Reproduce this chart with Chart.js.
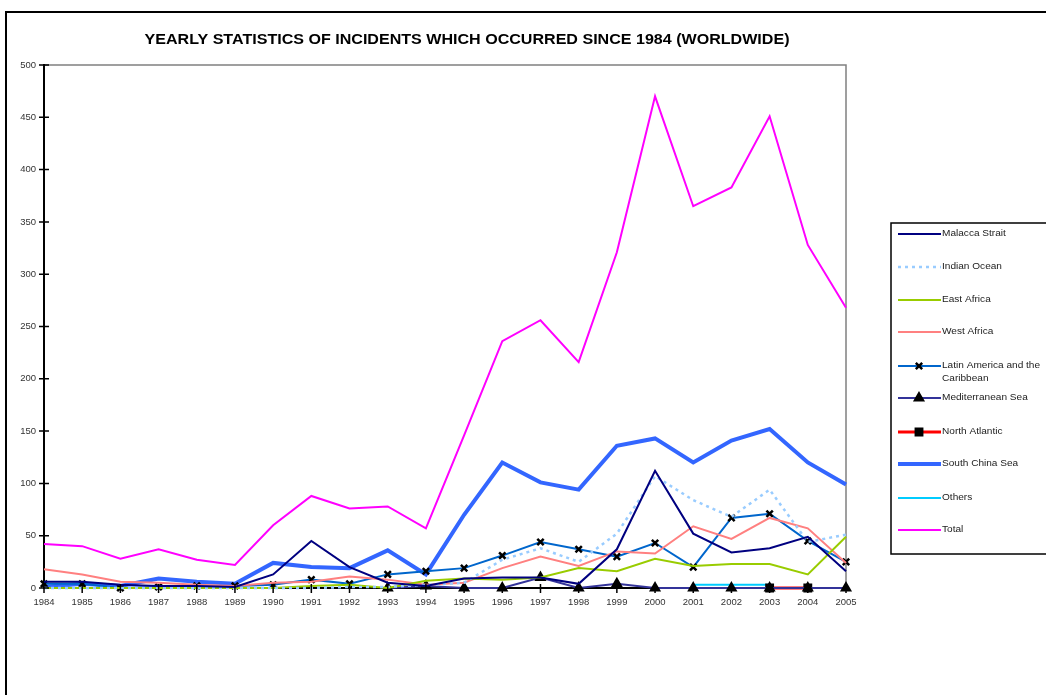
<!DOCTYPE html>
<html>
<head>
<meta charset="utf-8">
<script src="https://cdn.jsdelivr.net/npm/chart.js@4/dist/chart.umd.min.js"></script>
<style>
  body { margin: 0; background: #fff; }
  #wrap { width: 1046px; height: 695px; }
</style>
</head>
<body>
<div id="wrap"><canvas id="chart" width="1046" height="695"></canvas></div>
<script>
// years on the x axis
const years = ['1984','1985','1986','1987','1988','1989','1990','1991','1992','1993','1994',
  '1995','1996','1997','1998','1999','2000','2001','2002','2003','2004','2005'];

// incidents per region
const malacca      = [6, 6, 3, 2, 2, 1, 13, 45, 20, 5, 2, 9, 10, 10, 4, 37, 112, 52, 34, 38, 49, 16];
const indianOcean  = [0, 0, 0, 0, 0, 0, 0, 0, 1, 1, 3, 5, 27, 38, 25, 52, 107, 84, 68, 94, 44, 51];
const eastAfrica   = [0, 0, 0, 0, 0, 0, 0, 2, 3, 0, 7, 9, 8, 10, 19, 16, 28, 21, 23, 23, 13, 49];
const westAfrica   = [18, 13, 6, 5, 3, 2, 5, 6, 11, 8, 3, 5, 19, 30, 21, 35, 33, 59, 47, 67, 57, 24];
const latinAmerica = [4, 4, 0, 1, 2, 2, 3, 8, 4, 13, 16, 19, 31, 44, 37, 30, 43, 20, 67, 71, 45, 25];
const mediterranean = [null, null, null, null, null, null, null, null, null, 0, 2, 0, 0, 10, 0, 4, 0, 0, 0, 0, 0, 0];
const northAtlantic = [null, null, null, null, null, null, null, null, null, null, null, null, null, null, null, null, null, null, null, 0, 0, null];
const southChinaSea = [1, 4, 2, 9, 6, 4, 24, 20, 19, 36, 13, 70, 120, 101, 94, 136, 143, 120, 141, 152, 120, 99];
const others       = [null, null, null, null, null, null, null, null, null, null, null, null, null, null, null, null, null, 3, 3, 3, null, null];
const total        = [42, 40, 28, 37, 27, 22, 60, 88, 76, 78, 57, 146, 236, 256, 216, 321, 470, 365, 383, 451, 328, 268];

const yTicks = { min: 0, max: 500, step: 50 };
const titleText = 'YEARLY STATISTICS OF INCIDENTS WHICH OCCURRED SINCE 1984 (WORLDWIDE)';

const font = 'Arial, "Liberation Sans", sans-serif';

function line(label, data, color, width, extra) {
  return Object.assign({
    label, data,
    borderColor: color,
    backgroundColor: color,
    borderWidth: width,
    tension: 0,
    pointRadius: 0,
    spanGaps: false,
    clip: false
  }, extra || {});
}

const marker = (style, r) => ({
  pointStyle: style, pointRadius: r,
  pointBackgroundColor: '#000', pointBorderColor: '#000', pointBorderWidth: 2.5
});

const datasets = [
  line('Malacca Strait', malacca, '#000080', 2),
  line('Indian Ocean', indianOcean, '#99CCFF', 2.5, { borderDash: [3, 4] }),
  line('East Africa', eastAfrica, '#99CC00', 2),
  line('West Africa', westAfrica, '#FF8080', 2),
  line('Latin America and the Caribbean', latinAmerica, '#0066CC', 2, marker('crossRot', 4.5)),
  line('Mediterranean Sea', mediterranean, '#333399', 2, marker('triangle', 4.5)),
  line('North Atlantic', northAtlantic, '#FF0000', 3, marker('rect', 4.5)),
  line('South China Sea', southChinaSea, '#3366FF', 4, { order: 10 }),
  line('Others', others, '#00CCFF', 2),
  line('Total', total, '#FF00FF', 2)
];

// draw text stretched horizontally (the original uses a wide sans face)
function wideText(ctx, text, x, y, sx) {
  ctx.save();
  ctx.translate(x, y);
  ctx.scale(sx, 1);
  ctx.fillText(text, 0, 0);
  ctx.restore();
}

const decor = {
  id: 'decor',
  beforeDraw(chart) {
    const ctx = chart.ctx, a = chart.chartArea;
    ctx.save();
    // page frame
    ctx.strokeStyle = '#000';
    ctx.lineWidth = 2;
    ctx.beginPath();
    ctx.moveTo(1046, 12); ctx.lineTo(6, 12); ctx.lineTo(6, 695);
    ctx.stroke();
    // plot border (top/right grey)
    ctx.strokeStyle = '#808080';
    ctx.lineWidth = 1.5;
    ctx.beginPath();
    ctx.moveTo(a.left, a.top); ctx.lineTo(a.right, a.top); ctx.lineTo(a.right, a.bottom);
    ctx.stroke();
    // title
    ctx.fillStyle = '#000';
    ctx.font = 'bold 14px ' + font;
    ctx.textAlign = 'center';
    ctx.textBaseline = 'middle';
    const w = ctx.measureText(titleText).width;
    wideText(ctx, titleText, 467, 40, 645 / w);
    ctx.restore();
  },
  afterDraw(chart) {
    const ctx = chart.ctx, a = chart.chartArea;
    const xs = chart.scales.x, ys = chart.scales.y;
    ctx.save();
    ctx.strokeStyle = '#000';
    ctx.lineWidth = 1.5;
    ctx.beginPath();
    ys.ticks.forEach((t, i) => {
      const y = ys.getPixelForTick(i);
      ctx.moveTo(a.left - 5, y); ctx.lineTo(a.left + 5, y);
    });
    xs.ticks.forEach((t, i) => {
      const x = xs.getPixelForTick(i);
      ctx.moveTo(x, a.bottom - 4); ctx.lineTo(x, a.bottom + 5);
    });
    ctx.stroke();

    // legend box
    const bx = 891, by = 223, bw = 160, bh = 331;
    ctx.strokeStyle = '#000';
    ctx.lineWidth = 1.5;
    ctx.strokeRect(bx, by, bw, bh);
    const rows = [234, 267, 300, 332, 366, 398, 432, 464, 498, 530];
    ctx.font = '9px ' + font;
    ctx.textBaseline = 'middle';
    ctx.textAlign = 'left';
    const sx = 1.12;
    chart.data.datasets.forEach((ds, i) => {
      const y = rows[i];
      ctx.strokeStyle = ds.borderColor;
      ctx.lineWidth = ds.borderWidth;
      ctx.setLineDash(ds.borderDash || []);
      ctx.beginPath();
      ctx.moveTo(898, y); ctx.lineTo(941, y);
      ctx.stroke();
      ctx.setLineDash([]);
      if (ds.pointRadius) {
        ctx.fillStyle = '#000';
        ctx.strokeStyle = '#000';
        ctx.lineWidth = 2.5;
        Chart.helpers.drawPoint(ctx, { pointStyle: ds.pointStyle, radius: ds.pointRadius, borderWidth: 2.5, rotation: 0 }, 919, y);
      }
      // word wrap the label into the box
      ctx.fillStyle = '#222';
      const words = ds.label.split(' ');
      let cur = '', lines = [];
      words.forEach(w => {
        const test = cur ? cur + ' ' + w : w;
        if (ctx.measureText(test).width * sx > 106 && cur) { lines.push(cur); cur = w; } else cur = test;
      });
      lines.push(cur);
      lines.forEach((l, k) => wideText(ctx, l, 942, y + k * 13, sx));
    });
    ctx.restore();
  }
};

new Chart(document.getElementById('chart'), {
  type: 'line',
  data: { labels: years, datasets },
  options: {
    responsive: false,
    animation: false,
    layout: { padding: { left: 0, top: 65, right: 200, bottom: 0 } },
    plugins: { legend: { display: false }, title: { display: false }, tooltip: { enabled: false } },
    scales: {
      x: {
        type: 'category',
        offset: false,
        grid: { display: false, drawTicks: false },
        border: { color: '#000', width: 2 },
        ticks: { color: '#333', font: { family: font, size: 9.5 }, padding: 9, maxRotation: 0, autoSkip: false },
        afterFit: s => { s.height = 107; }
      },
      y: {
        min: yTicks.min, max: yTicks.max,
        grid: { display: false, drawTicks: false },
        border: { color: '#000', width: 2 },
        ticks: { stepSize: yTicks.step, color: '#333', font: { family: font, size: 9.5 }, padding: 8 },
        afterFit: s => { s.width = 44; }
      }
    }
  },
  plugins: [decor]
});
</script>
</body>
</html>
